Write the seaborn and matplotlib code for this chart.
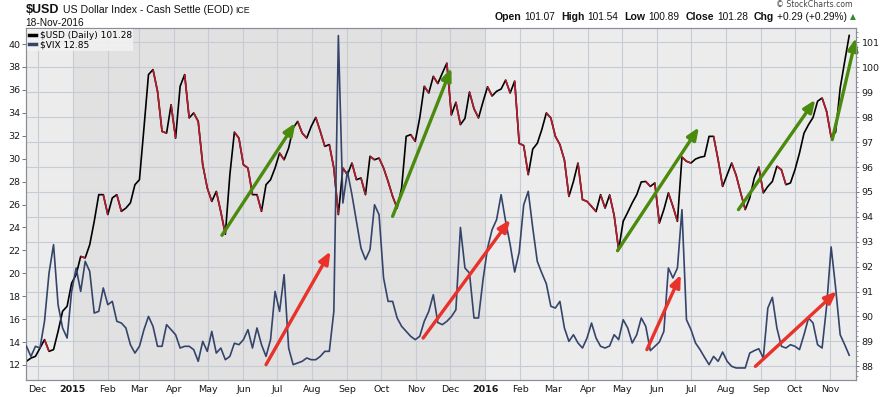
import numpy as np
import pandas as pd
import matplotlib
matplotlib.use("Agg")
import matplotlib.pyplot as plt
import matplotlib.dates as mdates
from matplotlib.collections import LineCollection
from matplotlib.lines import Line2D
from matplotlib.ticker import MultipleLocator, FixedLocator
import seaborn as sns

# one reading every 4 days, 21-Nov-2014 .. 18-Nov-2016
dates = pd.date_range("2014-11-21", "2016-11-18", freq="4D")

usd = [
    88.20, 88.33, 88.40, 88.73, 89.07, 88.60, 88.67, 89.40, 90.21, 90.41,
    91.34, 91.68, 92.41, 92.35, 92.88, 93.82, 94.89, 94.89, 94.09, 94.76,
    94.89, 94.22, 94.35, 94.56, 95.29, 95.49, 97.57, 99.71, 99.91, 99.04,
    97.43, 97.36, 98.50, 97.16, 99.24, 99.71, 97.97, 98.17, 97.83, 96.09,
    95.16, 94.62, 95.02, 94.20, 93.30, 95.69, 97.40, 97.16, 96.09, 95.96,
    94.89, 94.89, 94.22, 95.29, 95.49, 95.96, 96.56, 96.29, 96.76, 97.57,
    97.83, 97.36, 97.16, 97.63, 97.99, 97.43, 96.83, 96.90, 95.96, 94.09,
    95.96, 95.69, 96.16, 95.49, 95.56, 94.89, 96.43, 96.29, 96.36, 95.96,
    95.42, 94.82, 94.35, 95.16, 97.23, 97.30, 97.03, 97.97, 99.24, 98.97,
    99.64, 99.35, 99.77, 100.17, 98.09, 98.60, 97.70, 97.95, 99.01, 98.34,
    97.97, 98.62, 99.22, 98.85, 99.04, 99.13, 99.49, 98.97, 99.45, 96.95,
    96.86, 95.69, 96.72, 96.95, 97.50, 98.17, 97.97, 97.23, 96.90, 96.28,
    94.82, 95.42, 96.16, 94.69, 94.62, 94.42, 94.21, 94.89, 94.35, 94.88,
    94.06, 92.68, 93.82, 94.18, 94.56, 94.89, 95.40, 95.42, 95.22, 95.36,
    93.75, 94.29, 94.96, 94.42, 93.82, 96.40, 96.23, 96.16, 96.32, 96.39,
    96.43, 97.23, 97.23, 96.29, 95.22, 95.69, 96.16, 95.66, 94.96, 94.29,
    94.76, 95.56, 96.00, 94.96, 95.22, 95.42, 96.03, 95.89, 95.29, 95.36,
    95.89, 96.56, 97.36, 97.70, 97.99, 98.64, 98.77, 98.23, 97.20, 97.40,
    99.17, 100.24, 101.28,
]

vix = [
    13.63, 12.75, 13.63, 13.48, 15.81, 20.02, 22.50, 17.26, 15.23, 14.35,
    18.42, 20.46, 18.42, 21.04, 20.17, 16.53, 16.68, 18.72, 17.26, 17.55,
    15.81, 15.66, 15.23, 13.77, 13.04, 13.63, 15.08, 16.24, 15.37, 13.63,
    13.63, 15.52, 15.08, 14.64, 13.48, 13.63, 13.63, 13.34, 12.32, 14.06,
    13.19, 14.93, 13.04, 13.48, 12.46, 12.75, 13.90, 13.77, 14.21, 15.08,
    13.48, 15.23, 13.77, 12.75, 14.21, 18.42, 16.68, 19.88, 13.48, 12.03,
    12.17, 12.32, 12.61, 12.46, 12.46, 12.75, 13.19, 13.19, 16.68, 40.74,
    26.13, 28.89, 26.86, 24.53, 22.20, 21.19, 22.06, 25.98, 25.11, 19.59,
    17.55, 17.55, 16.10, 15.37, 14.93, 14.50, 14.21, 14.50, 15.81, 16.68,
    18.13, 15.70, 15.52, 15.81, 16.22, 16.82, 24.00, 20.46, 20.02, 16.10,
    16.10, 19.44, 22.20, 23.80, 24.68, 26.86, 24.53, 22.50, 20.11, 21.85,
    25.98, 27.15, 23.95, 21.04, 20.02, 19.09, 17.12, 16.97, 17.55, 15.23,
    14.06, 14.64, 13.92, 13.48, 14.35, 15.66, 14.35, 13.63, 13.48, 13.66,
    14.64, 14.21, 15.95, 15.23, 13.92, 14.64, 16.10, 15.37, 13.25, 13.63,
    14.00, 14.93, 20.46, 19.59, 20.46, 25.55, 15.95, 15.08, 13.92, 13.34,
    12.67, 12.03, 12.75, 12.32, 13.13, 12.32, 11.88, 11.74, 11.74, 11.74,
    13.04, 13.25, 13.42, 12.61, 16.97, 17.90, 15.23, 13.63, 13.48, 13.77,
    13.63, 13.34, 14.64, 16.10, 15.66, 13.77, 13.48, 17.12, 22.30, 18.71,
    14.64, 13.77, 12.85,
]

month_starts = pd.date_range("2014-12-01", "2016-11-01", freq="MS")
month_labels = [d.strftime("%Y") if d.month == 1 else d.strftime("%b") for d in month_starts]

usd_ticks = list(range(88, 102))
vix_ticks = list(range(12, 41, 2))

# trend arrows: start date, start value, end date, end value
green_arrows = [
    ("2015-05-13", 93.26, "2015-07-17", 97.77),
    ("2015-10-11", 94.02, "2015-12-02", 99.97),
    ("2016-04-27", 92.64, "2016-07-08", 97.59),
    ("2016-08-12", 94.29, "2016-10-19", 98.70),
    ("2016-11-03", 97.10, "2016-11-24", 101.18),
]
red_arrows = [
    ("2015-06-21", 12.03, "2015-08-17", 21.91),
    ("2015-11-07", 14.35, "2016-01-23", 24.68),
    ("2016-05-23", 13.34, "2016-06-22", 19.88),
    ("2016-08-27", 11.88, "2016-11-07", 18.42),
]

df = pd.DataFrame({"date": dates, "usd": usd, "vix": vix})

W, H = 886, 397
plt.rcParams["font.family"] = "DejaVu Sans"
fig = plt.figure(figsize=(W / 100, H / 100), dpi=100)
fig.patch.set_facecolor("white")

ax = fig.add_axes([26 / W, 17 / H, 830 / W, 352 / H])
ax_vix = ax.twinx()
ax.yaxis.tick_right()
ax_vix.yaxis.tick_left()

ax.set_facecolor("#ececec")
ax.axvspan(pd.Timestamp("2015-01-01"), pd.Timestamp("2016-01-01"), color="#e1e1e1", zorder=0.2, lw=0)

# USD: black line, red where it falls
sns.lineplot(data=df, x="date", y="usd", ax=ax, color="black", linewidth=1.2, zorder=3)
xn = mdates.date2num(dates)
down = [[(xn[i], usd[i]), (xn[i + 1], usd[i + 1])] for i in range(len(usd) - 1) if usd[i + 1] < usd[i]]
ax.add_collection(LineCollection(down, colors="#b51c2e", linewidths=1.2, zorder=4))

sns.lineplot(data=df, x="date", y="vix", ax=ax_vix, color="#34446b", linewidth=1.2, zorder=3)

def arrow(axis, a, color):
    x0, y0, x1, y1 = a
    axis.annotate("", xy=(mdates.date2num(pd.Timestamp(x1)), y1),
                  xytext=(mdates.date2num(pd.Timestamp(x0)), y0),
                  arrowprops=dict(arrowstyle="-|>,head_length=0.6,head_width=0.25", color=color,
                                  lw=2.4, shrinkA=0, shrinkB=0, mutation_scale=12),
                  annotation_clip=False, zorder=6)

for a in green_arrows:
    arrow(ax, a, "#4a8a0c")
for a in red_arrows:
    arrow(ax_vix, a, "#e8322a")

ax.set_xlim(pd.Timestamp("2014-11-20 15:00"), pd.Timestamp("2016-11-24"))
ax.set_ylim(87.45, 101.58)
ax_vix.set_ylim(10.69, 41.40)

ax.set_xticks(month_starts)
ax.set_xticklabels(month_labels)
for lab in ax.get_xticklabels():
    if lab.get_text().isdigit():
        lab.set_fontweight("bold")
        lab.set_fontsize(7.4)
ax.yaxis.set_major_locator(FixedLocator(usd_ticks))
ax.yaxis.set_minor_locator(MultipleLocator(0.2))
ax_vix.yaxis.set_major_locator(FixedLocator(vix_ticks))

ax.grid(True, which="major", color="#c6cbd6", linewidth=0.8)
ax.set_axisbelow(True)

ax.tick_params(axis="x", length=0, pad=3.5, labelsize=6.8, labelcolor="#1a1a1a")
ax.tick_params(axis="y", which="major", length=2.5, width=0.7, color="#777777", pad=1.5,
               labelsize=6.8, labelcolor="#1a1a1a")
ax.tick_params(axis="y", which="minor", length=1.3, width=0.6, color="#888888")
ax_vix.tick_params(axis="y", length=3, width=0.7, color="#777777", pad=1,
                   labelsize=6.8, labelcolor="#1a1a1a")
ax_vix.tick_params(axis="x", which="both", bottom=False, labelbottom=False)

for a in (ax, ax_vix):
    a.set_xlabel("")
    a.set_ylabel("")
    for s in a.spines.values():
        s.set_color("#8a8e96")
        s.set_linewidth(0.8)

leg = ax_vix.legend(
    handles=[Line2D([], [], color="black", lw=2.5), Line2D([], [], color="#34446b", lw=2.5)],
    labels=["$USD (Daily) 101.28", "$VIX 12.85"],
    loc="upper left", bbox_to_anchor=(0, 1), borderaxespad=0.1, fontsize=6.5,
    handlelength=0.8, handletextpad=0.4, labelspacing=0.1, borderpad=0.2,
    frameon=True, fancybox=False, facecolor="#f2f2f2", edgecolor="none", framealpha=0.85)
leg.set_zorder(10)

# header text, laid out piece by piece
renderer = fig.canvas.get_renderer()

def text_run(x_px, y_px, pieces, align="left"):
    made = []
    for s, gap, kw in pieces:
        t = fig.text(0, 0, s, va="baseline", ha="left", **kw)
        made.append((t, gap, t.get_window_extent(renderer).width))
    total = sum(g + w for _, g, w in made)
    cur = x_px if align == "left" else x_px - total
    for t, g, w in made:
        cur += g
        t.set_position((cur / W, 1 - y_px / H))
        cur += w

hb = dict(family="Liberation Sans", fontsize=9, fontweight="bold", color="#111111")
hr = dict(family="Liberation Sans", fontsize=7.6, color="#111111")
text_run(26, 13.3, [("$USD", 0, hb),
                    ("US Dollar Index - Cash Settle (EOD)", 3, hr),
                    ("ICE", 3, dict(family="Liberation Sans", fontsize=6.3, color="#111111"))])
text_run(25, 26.5, [("18-Nov-2016", 0, dict(family="Liberation Sans", fontsize=7.3, color="#111111"))])

qb = dict(family="Liberation Sans", fontsize=7.6, fontweight="bold", color="#111111")
qr = dict(family="Liberation Sans", fontsize=7.3, color="#111111")
text_run(856, 19.5, [("Open", 0, qb), ("101.07", 3, qr),
                     ("High", 6, qb), ("101.54", 3, qr),
                     ("Low", 6, qb), ("100.89", 3, qr),
                     ("Close", 6, qb), ("101.28", 3, qr),
                     ("Chg", 6, qb), ("+0.29 (+0.29%)", 3, qr),
                     ("\u25b2", 3, dict(fontsize=5.5, color="#2e8b2e"))], align="right")
text_run(853, 6.8, [("\u00a9 StockCharts.com", 0, dict(fontsize=5.6, color="#444444"))], align="right")

fig.savefig("out.png", dpi=100, facecolor="white")
